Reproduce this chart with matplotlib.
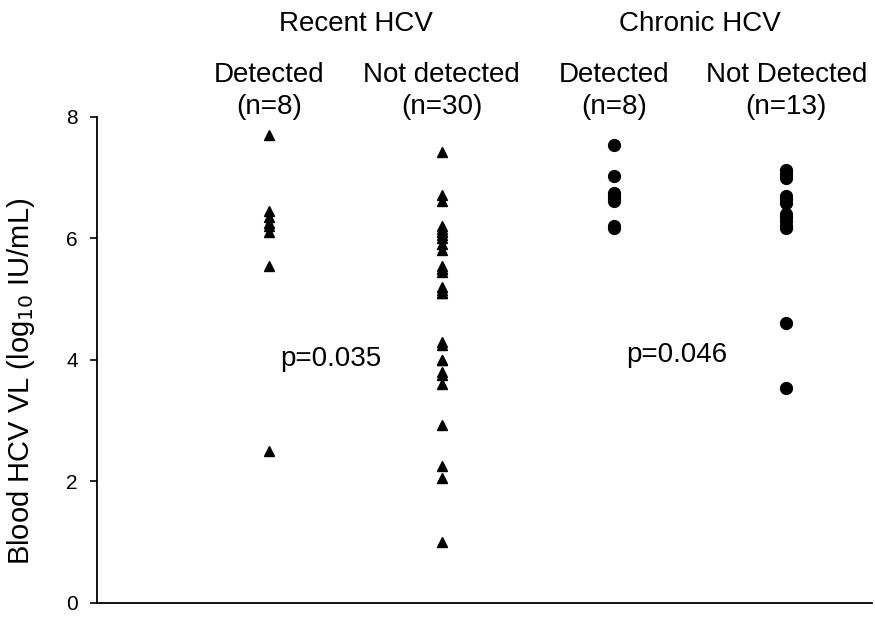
import matplotlib
matplotlib.use("Agg")
import matplotlib.pyplot as plt
import numpy as np

plt.rcParams["font.family"] = ["Liberation Sans", "DejaVu Sans"]

GROUPS = ["Recent HCV", "Chronic HCV"]
SUBGROUPS = ["Detected\n(n=8)", "Not detected\n(n=30)", "Detected\n(n=8)", "Not Detected\n(n=13)"]
P_VALUES = ["p=0.035", "p=0.046"]

RECENT_DET = [7.70, 6.45, 6.35, 6.25, 6.2, 6.1, 5.55, 2.5]
RECENT_NOT = [7.42, 6.72, 6.62, 6.2, 6.15, 6.1, 6.05, 6.0, 5.9, 5.8,
              5.55, 5.5, 5.45, 5.2, 5.15, 5.1, 5.1, 4.3, 4.25, 4.0,
              4.0, 3.75, 3.6, 2.93, 2.25, 2.05, 1.0, 6.1, 5.5, 3.8]
CHRONIC_DET = [7.54, 7.02, 6.75, 6.7, 6.65, 6.62, 6.2, 6.17]
CHRONIC_NOT = [7.13, 7.05, 7.0, 6.7, 6.65, 6.58, 6.4, 6.35, 6.28, 6.17,
               6.2, 4.6, 3.53]

fig = plt.figure(figsize=(8.75, 6.21), dpi=100)
ax = fig.add_axes([0.111, 0.029, 0.886, 0.783])

for pos, vals in [(1, RECENT_DET), (2, RECENT_NOT)]:
    ax.plot(np.full(len(vals), pos), vals, linestyle="none", marker="^",
            color="black", markersize=7.5, clip_on=False)
for pos, vals in [(3, CHRONIC_DET), (4, CHRONIC_NOT)]:
    ax.plot(np.full(len(vals), pos), vals, linestyle="none", marker="o",
            color="black", markersize=8.5, clip_on=False)

ax.set_xlim(0, 4.5)
ax.set_ylim(0, 8)
ax.set_yticks([0, 2, 4, 6, 8])
ax.set_xticks([])
ax.tick_params(axis="y", labelsize=15, direction="out", length=5, width=1.2, pad=9)
for s in ["top", "right"]:
    ax.spines[s].set_visible(False)
for s in ["left", "bottom"]:
    ax.spines[s].set_linewidth(1.3)

ax.set_ylabel("Blood HCV VL (log$_{10}$ IU/mL)", fontsize=21)
ax.yaxis.set_label_coords(-0.078, 0.455)

ax.text(1.5, 9.53, GROUPS[0], ha="center", va="center", fontsize=20, clip_on=False)
ax.text(3.5, 9.53, GROUPS[1], ha="center", va="center", fontsize=20, clip_on=False)
for i, lab in enumerate(SUBGROUPS):
    ax.text(i + 1, 8.42, lab, ha="center", va="center", fontsize=20,
            linespacing=1.3, clip_on=False)

ax.text(1.063, 4.02, P_VALUES[0], ha="left", va="center", fontsize=20)
ax.text(3.07, 4.08, P_VALUES[1], ha="left", va="center", fontsize=20)

fig.savefig("out.png", dpi=100)
